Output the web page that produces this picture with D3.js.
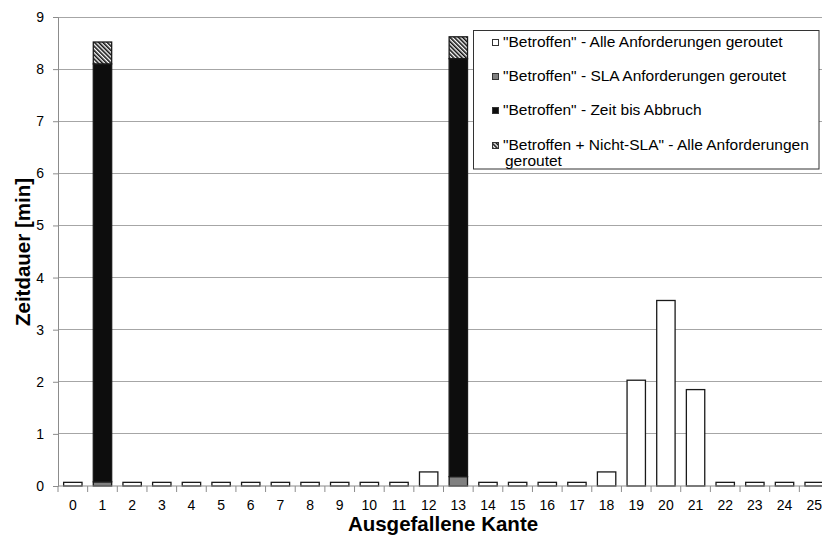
<!DOCTYPE html>
<html>
<head>
<meta charset="utf-8">
<script src="https://cdn.jsdelivr.net/npm/d3@7"></script>
<style>
  html, body { margin: 0; padding: 0; background: #fff; overflow: hidden; }
  svg { display: block; font-family: "Liberation Sans", Arial, sans-serif; }
  svg text { font-family: "Liberation Sans", Arial, sans-serif; fill: #000; }
</style>
</head>
<body>
<svg id="chart" width="822" height="538"></svg>
<script>
// Ausgefallene Kante (0..25)
const categories = d3.range(0, 26).map(String);

// "Betroffen" - Alle Anforderungen geroutet
const alleGeroutet = [0.07, 0, 0.07, 0.07, 0.07, 0.07, 0.07, 0.07, 0.07, 0.07, 0.07, 0.07, 0.27, 0,
                      0.07, 0.07, 0.07, 0.07, 0.27, 2.03, 3.56, 1.85, 0.07, 0.07, 0.07, 0.07];
// "Betroffen" - SLA Anforderungen geroutet
const slaGeroutet = [0, 0.08, 0, 0, 0, 0, 0, 0, 0, 0, 0, 0, 0, 0.18,
                     0, 0, 0, 0, 0, 0, 0, 0, 0, 0, 0, 0];
// "Betroffen" - Zeit bis Abbruch
const zeitBisAbbruch = [0, 8.02, 0, 0, 0, 0, 0, 0, 0, 0, 0, 0, 0, 8.02,
                        0, 0, 0, 0, 0, 0, 0, 0, 0, 0, 0, 0];
// "Betroffen + Nicht-SLA" - Alle Anforderungen geroutet
const nichtSlaGeroutet = [0, 0.42, 0, 0, 0, 0, 0, 0, 0, 0, 0, 0, 0, 0.42,
                          0, 0, 0, 0, 0, 0, 0, 0, 0, 0, 0, 0];

const seriesNames = [
  '"Betroffen" - Alle Anforderungen geroutet',
  '"Betroffen" - SLA Anforderungen geroutet',
  '"Betroffen" - Zeit bis Abbruch',
  '"Betroffen + Nicht-SLA" - Alle Anforderungen geroutet'
];
const yTicks = [0, 1, 2, 3, 4, 5, 6, 7, 8, 9];

const svg = d3.select("#chart");

// hatch pattern for the Nicht-SLA segment
const defs = svg.append("defs");
const pat = defs.append("pattern")
  .attr("id", "hatch").attr("patternUnits", "userSpaceOnUse")
  .attr("width", 3).attr("height", 3)
  .attr("patternTransform", "rotate(-45)");
pat.append("rect").attr("width", 3).attr("height", 3).attr("fill", "#fff");
pat.append("rect").attr("width", 1.6).attr("height", 3).attr("fill", "#111");

const fills = ["#ffffff", "#808080", "#0d0d0d", "url(#hatch)"];

// the category axis runs slightly past the right edge of the canvas
const plotLeft = 58, axisEnd = 829, visibleRight = 822, plotTop = 17, plotBottom = 486;

const x = d3.scaleBand().domain(categories).range([plotLeft, axisEnd])
  .paddingInner(0.38).paddingOuter(0.19);
const y = d3.scaleLinear().domain([0, 9]).range([plotBottom, plotTop]);

// gridlines
svg.append("g").selectAll("line").data(yTicks.filter(d => d > 0)).join("line")
  .attr("x1", plotLeft).attr("x2", visibleRight)
  .attr("y1", d => y(d)).attr("y2", d => y(d))
  .attr("stroke", "#a6a6a6").attr("stroke-width", 1)
  .attr("shape-rendering", "crispEdges");

// stacked bars
const rows = categories.map((c, i) => ({
  cat: c, s0: alleGeroutet[i], s1: slaGeroutet[i], s2: zeitBisAbbruch[i], s3: nichtSlaGeroutet[i]
}));
const stack = d3.stack().keys(["s0", "s1", "s2", "s3"]);
const layers = stack(rows);

svg.append("g").selectAll("g").data(layers).join("g")
  .attr("fill", (d, i) => fills[i])
  .selectAll("rect").data(d => d.filter(p => p[1] - p[0] > 0)).join("rect")
  .attr("x", d => x(d.data.cat))
  .attr("width", x.bandwidth())
  .attr("y", d => y(d[1]))
  .attr("height", d => y(d[0]) - y(d[1]))
  .attr("stroke", "#1a1a1a").attr("stroke-width", 1.3);

// y axis
const yAxis = svg.append("g").attr("transform", `translate(${plotLeft},0)`)
  .call(d3.axisLeft(y).tickValues(yTicks).tickSize(5).tickPadding(9));
yAxis.attr("font-family", null);
yAxis.select(".domain").attr("stroke", "#8c8c8c");
yAxis.selectAll(".tick line").attr("stroke", "#8c8c8c");
yAxis.selectAll("text").attr("font-size", 14).attr("fill", "#000");

// x axis: ticks at band boundaries
const xAxis = svg.append("g").attr("transform", `translate(0,${plotBottom})`);
xAxis.append("line").attr("x1", plotLeft).attr("x2", visibleRight).attr("y1", 0).attr("y2", 0)
  .attr("stroke", "#8c8c8c");
const step = x.step();
xAxis.selectAll(".bt").data(d3.range(0, categories.length + 1)).join("line")
  .attr("class", "bt")
  .attr("x1", i => plotLeft + i * step).attr("x2", i => plotLeft + i * step)
  .attr("y1", 0).attr("y2", 6).attr("stroke", "#8c8c8c");
xAxis.selectAll("text").data(categories).join("text")
  .attr("x", d => x(d) + x.bandwidth() / 2)
  .attr("y", 24).attr("text-anchor", "middle")
  .attr("font-size", 14).text(d => d);

// axis titles
svg.append("text").attr("transform", `translate(30,252) rotate(-90)`)
  .attr("text-anchor", "middle").attr("font-size", 20.5).attr("font-weight", "bold")
  .text("Zeitdauer [min]");
svg.append("text").attr("x", 443).attr("y", 531)
  .attr("text-anchor", "middle").attr("font-size", 20.5).attr("font-weight", "bold")
  .text("Ausgefallene Kante");

// legend
const lg = svg.append("g");
lg.append("rect").attr("x", 473.5).attr("y", 30.5).attr("width", 345.5).attr("height", 138.5)
  .attr("fill", "#fff").attr("stroke", "#333");
const rowBase = [47, 81, 115, 150];
seriesNames.forEach((name, i) => {
  lg.append("rect").attr("x", 492.5).attr("y", rowBase[i] - 7.5).attr("width", 6).attr("height", 6)
    .attr("fill", fills[i]).attr("stroke", "#333").attr("stroke-width", 1);
  const t = lg.append("text").attr("x", 503).attr("y", rowBase[i]).attr("font-size", 15.5);
  if (i === 3) {
    t.text('"Betroffen + Nicht-SLA" - Alle Anforderungen');
    lg.append("text").attr("x", 505).attr("y", rowBase[i] + 15.5).attr("font-size", 15.5).text("geroutet");
  } else {
    t.text(name);
  }
});
</script>
</body>
</html>
